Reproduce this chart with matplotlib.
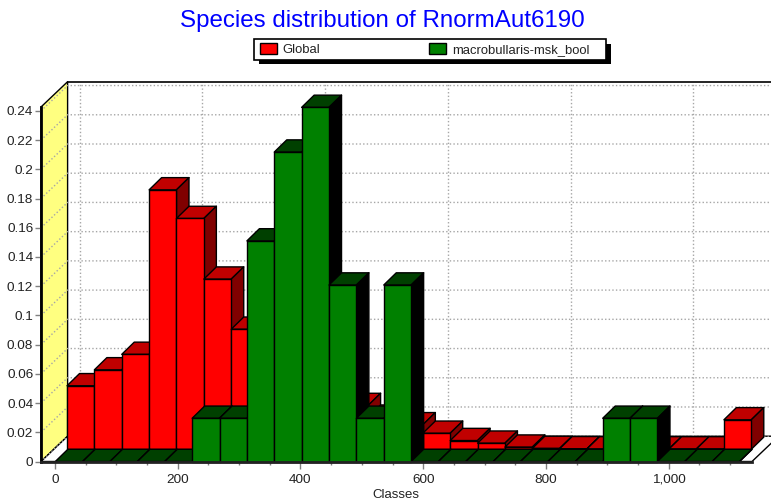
import numpy as np
import matplotlib
matplotlib.use("Agg")
import matplotlib.pyplot as plt
from matplotlib.patches import Polygon, Patch, Rectangle
from matplotlib.transforms import Affine2D
from matplotlib.ticker import MultipleLocator, FuncFormatter

plt.rcParams['font.family'] = ['Liberation Sans', 'DejaVu Sans']

# ---- data ----
class_left = [0.5, 45.1, 89.7, 134.3, 178.9, 223.5, 268.1, 312.7, 357.3, 401.9, 446.5, 491.1, 535.7,
              580.3, 624.9, 669.5, 714.1, 758.7, 803.3, 847.9, 892.5, 937.1, 981.7, 1026.3, 1070.9]
class_width = 44.6
global_vals = [0.0435, 0.0544, 0.065, 0.1776, 0.158, 0.1165, 0.0822, 0.07, 0.055, 0.04, 0.03, 0.022, 0.0168,
               0.011, 0.006, 0.0042, 0.0015, 0.0006, 0.0004, 0.0003, 0.0003, 0.0003, 0.0003, 0.0003, 0.0202]
macro_vals = [0, 0, 0, 0, 0, 0.0296, 0.0296, 0.151, 0.2118, 0.2424, 0.1208, 0.0296, 0.1208,
              0, 0, 0, 0, 0, 0, 0, 0.0296, 0.0296, 0, 0, 0]
y_ticks = [0, 0.02, 0.04, 0.06, 0.08, 0.1, 0.12, 0.14, 0.16, 0.18, 0.2, 0.22, 0.24]
x_ticks = [0, 200, 400, 600, 800, 1000]
title = "Species distribution of RnormAut6190"
series_names = ["Global", "macrobullaris-msk_bool"]
x_label = "Classes"

RED = ('#ff0000', '#c00000', '#800000')
GREEN = ('#008000', '#004000', '#000000')
YELLOW = '#ffff80'
DEPTH = (12.5, 12.2)
WALL = (26.6, 25.3)
GRID_SHIFT = (24.6, 25.3)

W, H = 771, 504
fig = plt.figure(figsize=(W / 100, H / 100), dpi=100, facecolor='white')
x_px = (41, 752)
y_px = (107, 461.5)
ax = fig.add_axes([x_px[0] / W, 1 - y_px[1] / H, (x_px[1] - x_px[0]) / W, (y_px[1] - y_px[0]) / H])
ax.set_xlim((x_px[0] - 55) / 0.6137, (x_px[1] - 55) / 0.6137)
ax.set_ylim(0, (y_px[1] - y_px[0]) / 1461)
ax.patch.set_alpha(0)
xmin, xmax = ax.get_xlim()
ymin, ymax = ax.get_ylim()


def shifted(dx, dy):
    return ax.transData + Affine2D().translate(dx, dy)


def poly(pts, face, dx=0, dy=0, z=2, lw=1.0, edge='black'):
    ax.add_patch(Polygon(pts, closed=True, facecolor=face, edgecolor=edge, linewidth=lw,
                         transform=shifted(dx, dy), clip_on=False, zorder=z, joinstyle='round'))


# walls (offset helper acts in pixels)
to_data_x = (xmax - xmin) / (x_px[1] - x_px[0])
to_data_y = (ymax - ymin) / (y_px[1] - y_px[0])
wx, wy = WALL[0] * to_data_x, WALL[1] * to_data_y
poly([(xmin, ymin), (xmin + wx, wy), (xmin + wx, ymax + wy), (xmin, ymax)], YELLOW, z=1)
poly([(xmin, ymin), (xmax, ymin), (xmax + wx, wy), (xmin + wx, wy)], 'white', z=1)
ax.plot([xmin + wx, xmax + wx], [ymax + wy] * 2, color='black', lw=1.2, clip_on=False, zorder=1.5)

# grid
dots = (0, (1, 1.6))
for v in y_ticks:
    ax.plot([xmin, xmin + wx, xmax + wx], [v, v + wy, v + wy], color='#a6a6a6', lw=1, ls=dots,
            clip_on=False, zorder=1.2)
for v in x_ticks:
    ax.plot([v, v], [0, ymax], color='#a6a6a6', lw=1, ls=dots, clip_on=False, zorder=1.2,
            transform=shifted(*GRID_SHIFT))


def bar3d(left, width, value, colors, dx, dy, z):
    front, top, side = colors
    ddx, ddy = DEPTH[0] * to_data_x, DEPTH[1] * to_data_y
    r = left + width
    poly([(left, value), (r, value), (r + ddx, value + ddy), (left + ddx, value + ddy)], top, dx, dy, z)
    poly([(r, 0), (r + ddx, ddy), (r + ddx, value + ddy), (r, value)], side, dx, dy, z)
    if value > 0:
        poly([(left, 0), (r, 0), (r, value), (left, value)], front, dx, dy, z)


for i, (l, v) in enumerate(zip(class_left, global_vals)):
    bar3d(l, class_width, v, RED, DEPTH[0] - 0.8, DEPTH[1], 3 + i * 0.01)
for i, (l, v) in enumerate(zip(class_left, macro_vals)):
    bar3d(l, class_width, v, GREEN, 0, 0, 4 + i * 0.01)

# axes
for s in ('top', 'right'):
    ax.spines[s].set_visible(False)
ax.spines['left'].set_linewidth(2)
ax.spines['bottom'].set_linewidth(2)
ax.spines['bottom'].set_color('#222222')
for s in ax.spines.values():
    s.set_zorder(6)
ax.set_yticks(y_ticks)
ax.set_xticks(x_ticks)
ax.xaxis.set_minor_locator(MultipleLocator(50))
ax.yaxis.set_major_formatter(FuncFormatter(lambda v, _: f"{v:g}"))
ax.xaxis.set_major_formatter(FuncFormatter(lambda v, _: f"{v:,.0f}"))
ax.tick_params(axis='y', which='major', length=4, width=1, color='#808080', labelsize=9.7,
               labelcolor='#222222', pad=1.5)
ax.tick_params(axis='x', which='major', length=5, width=1, color='#808080', labelsize=9.7,
               labelcolor='#222222', pad=4)
ax.tick_params(axis='x', which='minor', length=2.5, width=1, color='#808080')
ax.set_xlabel(x_label, fontsize=9.5, color='#222222')
ax.xaxis.label.set_verticalalignment('center')
ax.xaxis.set_label_coords((396 - x_px[0]) / (x_px[1] - x_px[0]), -33.5 / (y_px[1] - y_px[0]))

fig.text(382 / W, 1 - 21.5 / H, title, color='#0000ff', fontsize=17.4, ha='center', va='center')

# legend: frame and shadow drawn separately so their padding can follow the reference
px_rect = lambda x0, y0, x1, y1: (x0 / W, 1 - y1 / H, (x1 - x0) / W, (y1 - y0) / H)
for (x0, y0, x1, y1), face, lw in [((259, 44, 611, 64), 'black', 0), ((254, 39, 606, 59.5), 'white', 1.2)]:
    l, b, w, h = px_rect(x0, y0, x1, y1)
    fig.add_artist(Rectangle((l, b), w, h, transform=fig.transFigure, facecolor=face, edgecolor='black',
                             linewidth=lw, zorder=8))
handles = [Patch(facecolor=RED[0], edgecolor='black', lw=1), Patch(facecolor=GREEN[0], edgecolor='black', lw=1)]
leg = fig.legend(handles, series_names, ncols=2, loc='center left', bbox_to_anchor=(260 / W, 1 - 49.3 / H),
                 fontsize=9.4, frameon=False, borderaxespad=0, borderpad=0, handlelength=1.3,
                 handleheight=0.88, handletextpad=0.45, columnspacing=8.3)
leg.set_zorder(9)
for t in leg.get_texts():
    t.set_color('#222222')

fig.savefig('out.png', dpi=100)
